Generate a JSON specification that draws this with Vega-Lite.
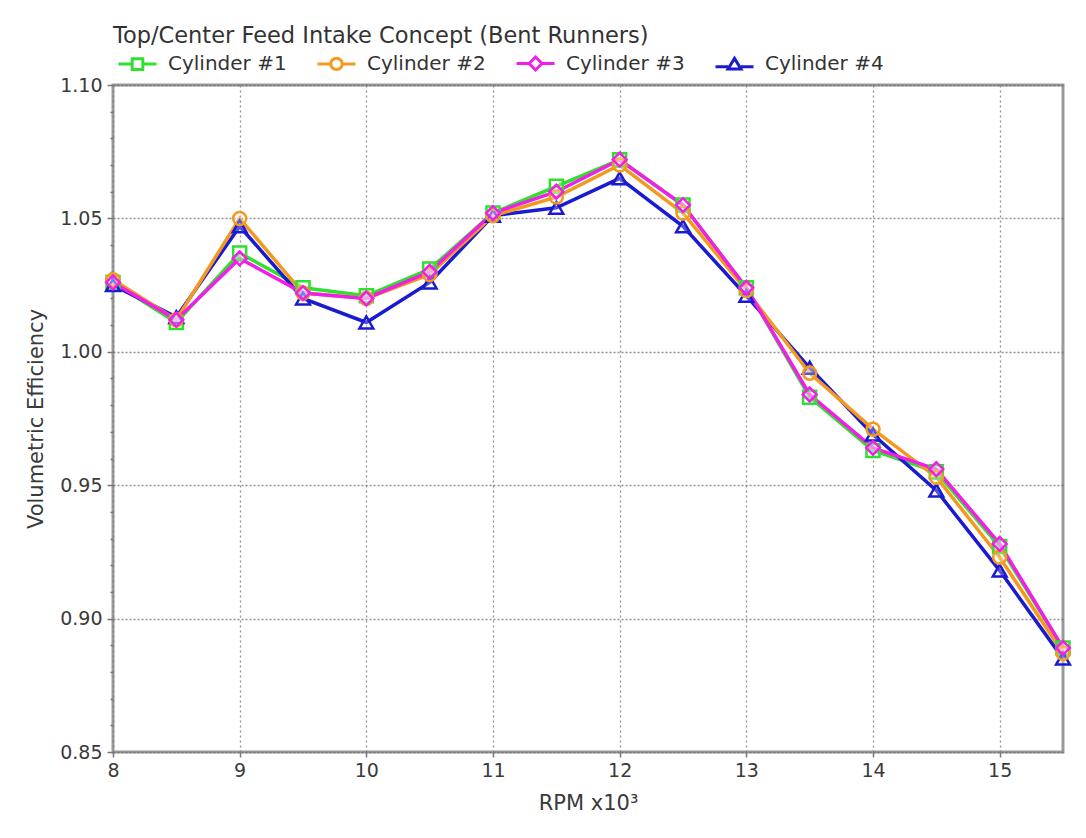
{
  "$schema": "https://vega.github.io/schema/vega-lite/v6.json",
  "width": 950,
  "height": 667,
  "autosize": {"type": "none"},
  "padding": {"left": 113, "top": 85, "right": 23, "bottom": 86},
  "background": "white",
  "title": {
    "text": "Top/Center Feed Intake Concept (Bent Runners)",
    "anchor": "start",
    "frame": "group",
    "font": "DejaVu Sans",
    "fontSize": 22.5,
    "fontWeight": "normal",
    "color": "#333333",
    "baseline": "middle",
    "offset": -15
  },
  "config": {
    "font": "DejaVu Sans",
    "view": {"stroke": "#9a9a9a", "strokeWidth": 3},
    "axis": {
      "labelFont": "DejaVu Sans",
      "labelFontSize": 19,
      "labelColor": "#3a3a3a",
      "titleFont": "DejaVu Sans",
      "titleFontSize": 21,
      "titleFontWeight": "normal",
      "titleColor": "#3a3a3a",
      "domain": false,
      "tickColor": "#777777",
      "tickSize": 5,
      "tickWidth": 1.5,
      "gridColor": "#666666",
      "gridDash": [2, 2],
      "gridWidth": 1.5,
      "gridOpacity": 0.85
    }
  },
  "data": {
    "values": [
      {"rpm": 8, "cyl": "Cylinder #1", "ve": 1.026},
      {"rpm": 8.5, "cyl": "Cylinder #1", "ve": 1.011},
      {"rpm": 9, "cyl": "Cylinder #1", "ve": 1.037},
      {"rpm": 9.5, "cyl": "Cylinder #1", "ve": 1.024},
      {"rpm": 10, "cyl": "Cylinder #1", "ve": 1.021},
      {"rpm": 10.5, "cyl": "Cylinder #1", "ve": 1.031},
      {"rpm": 11, "cyl": "Cylinder #1", "ve": 1.052},
      {"rpm": 11.5, "cyl": "Cylinder #1", "ve": 1.062},
      {"rpm": 12, "cyl": "Cylinder #1", "ve": 1.072},
      {"rpm": 12.5, "cyl": "Cylinder #1", "ve": 1.055},
      {"rpm": 13, "cyl": "Cylinder #1", "ve": 1.024},
      {"rpm": 13.5, "cyl": "Cylinder #1", "ve": 0.983},
      {"rpm": 14, "cyl": "Cylinder #1", "ve": 0.963},
      {"rpm": 14.5, "cyl": "Cylinder #1", "ve": 0.955},
      {"rpm": 15, "cyl": "Cylinder #1", "ve": 0.927},
      {"rpm": 15.5, "cyl": "Cylinder #1", "ve": 0.889},
      {"rpm": 8, "cyl": "Cylinder #4", "ve": 1.025},
      {"rpm": 8.5, "cyl": "Cylinder #4", "ve": 1.013},
      {"rpm": 9, "cyl": "Cylinder #4", "ve": 1.047},
      {"rpm": 9.5, "cyl": "Cylinder #4", "ve": 1.020},
      {"rpm": 10, "cyl": "Cylinder #4", "ve": 1.011},
      {"rpm": 10.5, "cyl": "Cylinder #4", "ve": 1.026},
      {"rpm": 11, "cyl": "Cylinder #4", "ve": 1.051},
      {"rpm": 11.5, "cyl": "Cylinder #4", "ve": 1.054},
      {"rpm": 12, "cyl": "Cylinder #4", "ve": 1.065},
      {"rpm": 12.5, "cyl": "Cylinder #4", "ve": 1.047},
      {"rpm": 13, "cyl": "Cylinder #4", "ve": 1.021},
      {"rpm": 13.5, "cyl": "Cylinder #4", "ve": 0.994},
      {"rpm": 14, "cyl": "Cylinder #4", "ve": 0.969},
      {"rpm": 14.5, "cyl": "Cylinder #4", "ve": 0.948},
      {"rpm": 15, "cyl": "Cylinder #4", "ve": 0.918},
      {"rpm": 15.5, "cyl": "Cylinder #4", "ve": 0.885},
      {"rpm": 8, "cyl": "Cylinder #2", "ve": 1.027},
      {"rpm": 8.5, "cyl": "Cylinder #2", "ve": 1.012},
      {"rpm": 9, "cyl": "Cylinder #2", "ve": 1.050},
      {"rpm": 9.5, "cyl": "Cylinder #2", "ve": 1.022},
      {"rpm": 10, "cyl": "Cylinder #2", "ve": 1.020},
      {"rpm": 10.5, "cyl": "Cylinder #2", "ve": 1.029},
      {"rpm": 11, "cyl": "Cylinder #2", "ve": 1.051},
      {"rpm": 11.5, "cyl": "Cylinder #2", "ve": 1.058},
      {"rpm": 12, "cyl": "Cylinder #2", "ve": 1.070},
      {"rpm": 12.5, "cyl": "Cylinder #2", "ve": 1.052},
      {"rpm": 13, "cyl": "Cylinder #2", "ve": 1.023},
      {"rpm": 13.5, "cyl": "Cylinder #2", "ve": 0.992},
      {"rpm": 14, "cyl": "Cylinder #2", "ve": 0.971},
      {"rpm": 14.5, "cyl": "Cylinder #2", "ve": 0.953},
      {"rpm": 15, "cyl": "Cylinder #2", "ve": 0.923},
      {"rpm": 15.5, "cyl": "Cylinder #2", "ve": 0.887},
      {"rpm": 8, "cyl": "Cylinder #3", "ve": 1.026},
      {"rpm": 8.5, "cyl": "Cylinder #3", "ve": 1.012},
      {"rpm": 9, "cyl": "Cylinder #3", "ve": 1.035},
      {"rpm": 9.5, "cyl": "Cylinder #3", "ve": 1.022},
      {"rpm": 10, "cyl": "Cylinder #3", "ve": 1.020},
      {"rpm": 10.5, "cyl": "Cylinder #3", "ve": 1.030},
      {"rpm": 11, "cyl": "Cylinder #3", "ve": 1.052},
      {"rpm": 11.5, "cyl": "Cylinder #3", "ve": 1.060},
      {"rpm": 12, "cyl": "Cylinder #3", "ve": 1.072},
      {"rpm": 12.5, "cyl": "Cylinder #3", "ve": 1.055},
      {"rpm": 13, "cyl": "Cylinder #3", "ve": 1.024},
      {"rpm": 13.5, "cyl": "Cylinder #3", "ve": 0.984},
      {"rpm": 14, "cyl": "Cylinder #3", "ve": 0.964},
      {"rpm": 14.5, "cyl": "Cylinder #3", "ve": 0.956},
      {"rpm": 15, "cyl": "Cylinder #3", "ve": 0.928},
      {"rpm": 15.5, "cyl": "Cylinder #3", "ve": 0.889}
    ]
  },
  "encoding": {
    "x": {
      "field": "rpm",
      "type": "quantitative",
      "scale": {"domain": [8, 15.5], "nice": false, "zero": false},
      "axis": {
        "title": "RPM x10³",
        "values": [8, 9, 10, 11, 12, 13, 14, 15],
        "format": "d",
        "labelPadding": 4,
        "titlePadding": 12,
        "labelFlush": false,
        "gridColor": "#808080",
        "gridDash": [2, 3],
        "gridWidth": 1.3
      }
    },
    "y": {
      "field": "ve",
      "type": "quantitative",
      "scale": {"domain": [0.85, 1.10], "nice": false, "zero": false},
      "axis": {
        "title": "Volumetric Efficiency",
        "values": [0.85, 0.86, 0.87, 0.88, 0.89, 0.9, 0.91, 0.92, 0.93, 0.94, 0.95, 0.96, 0.97, 0.98, 0.99, 1.0, 1.01, 1.02, 1.03, 1.04, 1.05, 1.06, 1.07, 1.08, 1.09, 1.1],
        "labelExpr": "abs(datum.value * 20 - round(datum.value * 20)) < 0.01 ? format(datum.value, '.2f') : ''",
        "tickSize": {"condition": {"test": "abs(datum.value * 20 - round(datum.value * 20)) < 0.01", "value": 6}, "value": 3},
        "gridOpacity": {"condition": {"test": "abs(datum.value * 20 - round(datum.value * 20)) < 0.01", "value": 0.85}, "value": 0},
        "labelPadding": 5,
        "titlePadding": 13
      }
    },
    "color": {
      "field": "cyl",
      "type": "nominal",
      "scale": {
        "domain": ["Cylinder #1", "Cylinder #2", "Cylinder #3", "Cylinder #4"],
        "range": ["#2fe02f", "#f39a1e", "#f21ee8", "#1a1ad0"]
      },
      "legend": {
        "title": null,
        "orient": "none",
        "direction": "horizontal",
        "columns": 4,
        "legendX": 4,
        "legendY": -42,
        "padding": 0,
        "labelFont": "DejaVu Sans",
        "labelFontSize": 20,
        "labelColor": "#333333",
        "labelOffset": 10,
        "columnPadding": 24,
        "symbolSize": 1444,
        "symbolStrokeWidth": 3,
        "symbolFillColor": "white",
        "labelLimit": 300,
        "encode": {
          "symbols": {
            "update": {
              "shape": {
                "signal": "datum.value === 'Cylinder #1' ? 'M-1,0H-0.28M0.28,0H1M-0.28,-0.28H0.28V0.28H-0.28Z' : datum.value === 'Cylinder #2' ? 'M-1,0H-0.3M0.3,0H1M-0.3,0A0.3,0.3 0 1,0 0.3,0A0.3,0.3 0 1,0 -0.3,0Z' : datum.value === 'Cylinder #3' ? 'M-1,0H-0.34M0.34,0H1M0,-0.34L0.34,0L0,0.34L-0.34,0Z' : 'M-1,0.12H-0.34M0.34,0.12H1M0,-0.32L0.34,0.24H-0.34Z'"
              },
              "strokeWidth": {"value": 3}
            }
          }
        }
      }
    }
  },
  "layer": [
    {
      "mark": {"type": "line", "strokeWidth": 3.5},
      "encoding": {
        "detail": {"field": "cyl"}
      }
    },
    {
      "transform": [{"filter": {"field": "cyl", "equal": "Cylinder #1"}}],
      "mark": {"type": "point", "shape": "square", "filled": false, "strokeWidth": 2.5, "opacity": 1, "fill": "white", "fillOpacity": 0.25, "size": 170}
    },
    {
      "transform": [{"filter": {"field": "cyl", "equal": "Cylinder #4"}}],
      "mark": {"type": "point", "shape": "triangle-up", "filled": false, "strokeWidth": 2.5, "opacity": 1, "fill": "white", "fillOpacity": 0.25, "size": 190}
    },
    {
      "transform": [{"filter": {"field": "cyl", "equal": "Cylinder #2"}}],
      "mark": {"type": "point", "shape": "circle", "filled": false, "strokeWidth": 2.5, "opacity": 1, "fill": "white", "fillOpacity": 0.25, "size": 170}
    },
    {
      "transform": [{"filter": {"field": "cyl", "equal": "Cylinder #3"}}],
      "mark": {"type": "point", "shape": "diamond", "filled": false, "strokeWidth": 2.5, "opacity": 1, "fill": "white", "fillOpacity": 0.25, "size": 190}
    }
  ]
}
